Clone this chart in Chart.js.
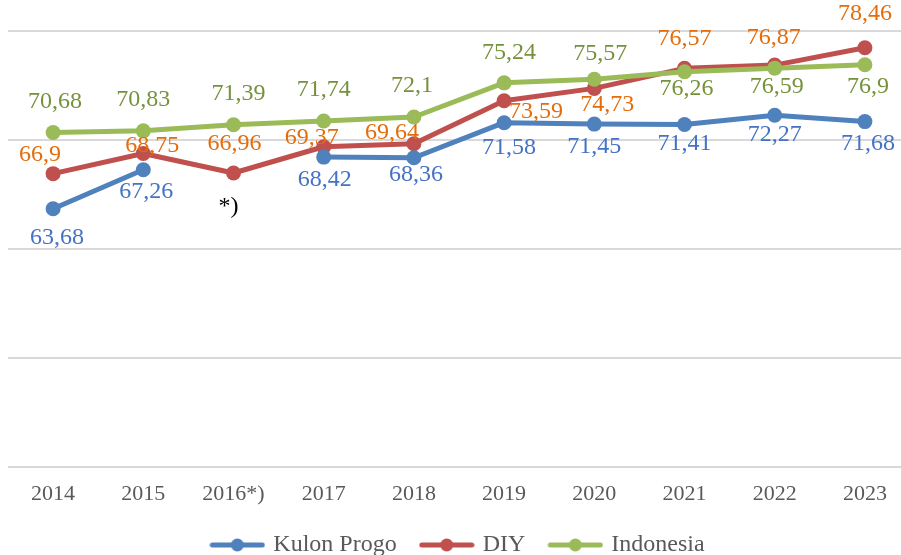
<!DOCTYPE html>
<html>
<head>
<meta charset="utf-8">
<script src="https://cdn.jsdelivr.net/npm/chart.js@4.4.1/dist/chart.umd.min.js"></script>
<style>
	html, body { margin: 0; padding: 0; background: #fff; overflow: hidden; }
	#wrap { width: 928px; height: 567px; }
</style>
</head>
<body>
<div id="wrap"><canvas id="ipmChart" width="928" height="567"></canvas></div>
<script>
const years = ['2014', '2015', '2016*)', '2017', '2018', '2019', '2020', '2021', '2022', '2023']
const kulonProgo = [63.68, 67.26, null, 68.42, 68.36, 71.58, 71.45, 71.41, 72.27, 71.68]
const diy = [66.9, 68.75, 66.96, 69.37, 69.64, 73.59, 74.73, 76.57, 76.87, 78.46]
const indonesia = [70.68, 70.83, 71.39, 71.74, 72.1, 75.24, 75.57, 76.26, 76.59, 76.9]

// label nudges (px) relative to each point, hand-placed like in the source
const kulonShift = [[4, 29], [3, 22], [0, 0], [1, 23], [2, 17], [5, 25], [0, 23], [0, 19], [0, 20], [3, 22]]
const diyShift = [[-13, -19], [9, -8], [1, -29], [-12, -9], [-22, -11], [32, 11], [13, 16], [0, -30], [-1, -27], [0, -34]]
const indoShift = [[2, -31], [0, -31], [5, -31], [0, -31], [-2, -31], [5, -30], [6, -26], [2, 17], [2, 19], [3, 22]]

const serif = "'Liberation Serif', 'Times New Roman', serif"

const makeMarker = function (color) {
	const c = document.createElement('canvas')
	c.width = 56
	c.height = 16
	const g = c.getContext('2d')
	g.strokeStyle = color
	g.lineWidth = 5
	g.lineCap = 'round'
	g.beginPath()
	g.moveTo(3, 8)
	g.lineTo(53, 8)
	g.stroke()
	g.fillStyle = color
	g.beginPath()
	g.arc(28, 8, 6.5, 0, Math.PI * 2)
	g.fill()
	return c
}

const valueLabels = {
	id: 'valueLabels',
	afterDatasetsDraw(chart) {
		const ctx = chart.ctx
		ctx.save()
		ctx.font = '24px ' + serif
		ctx.textAlign = 'center'
		ctx.textBaseline = 'middle'
		chart.data.datasets.forEach((ds, i) => {
			const meta = chart.getDatasetMeta(i)
			meta.data.forEach((pt, j) => {
				const v = ds.data[j]
				if (v === null) return
				const s = ds.labelShift[j]
				ctx.fillStyle = ds.labelColor
				ctx.fillText(String(v).replace('.', ','), pt.x + s[0], pt.y + s[1])
			})
		})
		// note for the missing Kulon Progo value in 2016
		const x = chart.scales.x.getPixelForValue(2)
		const y = chart.scales.y.getPixelForValue(63.85)
		ctx.fillStyle = '#000'
		ctx.fillText('*)', x - 5, y)
		ctx.restore()
	}
}

const data = {
	labels: years,
	datasets: [{
		label: 'Kulon Progo',
		data: kulonProgo,
		borderColor: '#4F81BD',
		backgroundColor: '#4F81BD',
		labelColor: '#4472C4',
		labelShift: kulonShift,
		marker: makeMarker('#4F81BD'),
		order: 1
	}, {
		label: 'DIY',
		data: diy,
		borderColor: '#C0504D',
		backgroundColor: '#C0504D',
		labelColor: '#E46C0A',
		labelShift: diyShift,
		marker: makeMarker('#C0504D'),
		order: 2
	}, {
		label: 'Indonesia',
		data: indonesia,
		borderColor: '#9BBB59',
		backgroundColor: '#9BBB59',
		labelColor: '#76923C',
		labelShift: indoShift,
		marker: makeMarker('#9BBB59'),
		order: 0
	}]
}

const config = {
	type: 'line',
	data: data,
	plugins: [valueLabels],
	options: {
		responsive: false,
		animation: false,
		devicePixelRatio: 1,
		layout: { padding: { left: 8, right: 18, top: 31, bottom: 0 } },
		elements: {
			line: { borderWidth: 5, tension: 0, borderCapStyle: 'round', borderJoinStyle: 'round' },
			point: { radius: 7.5, borderWidth: 0, hoverRadius: 7.5 }
		},
		spanGaps: false,
		scales: {
			x: {
				offset: true,
				grid: { display: false },
				border: { display: false },
				ticks: { color: '#595959', font: { family: serif, size: 22 }, padding: 6 },
				afterFit: function (scale) { scale.height -= 6 }
			},
			y: {
				min: 40,
				max: 80,
				grid: { color: '#D9D9D9', lineWidth: 2, drawTicks: false },
				border: { display: false },
				ticks: { display: false, stepSize: 10 }
			}
		},
		plugins: {
			tooltip: { enabled: false },
			legend: {
				position: 'bottom',
				labels: {
					color: '#595959',
					font: { family: serif, size: 24 },
					usePointStyle: true,
					pointStyleWidth: 48,
					padding: 26,
					sort: (a, b) => a.datasetIndex - b.datasetIndex,
					generateLabels: function (chart) {
						return chart.data.datasets.map((ds, i) => ({
							text: ds.label,
							pointStyle: ds.marker,
							fillStyle: ds.backgroundColor,
							strokeStyle: ds.borderColor,
							lineWidth: 0,
							fontColor: '#595959',
							datasetIndex: i,
							hidden: false
						}))
					}
				}
			}
		}
	}
}

const ipmChart = new Chart(document.getElementById('ipmChart'), config)
</script>
</body>
</html>
